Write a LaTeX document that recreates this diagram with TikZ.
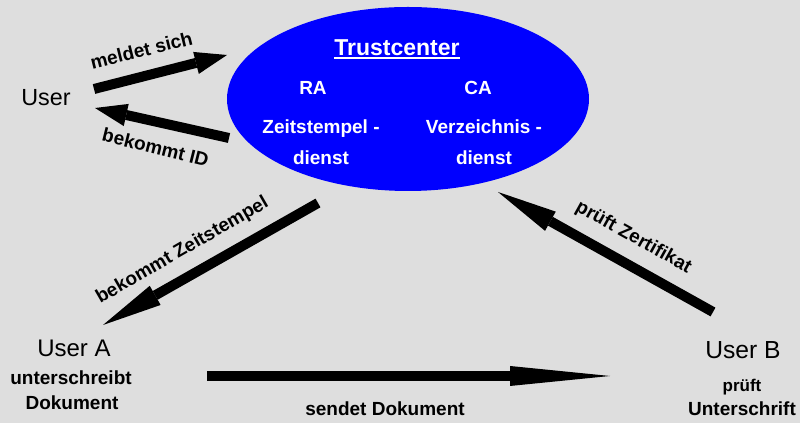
\documentclass[tikz,border=0pt]{standalone}
\usepackage{fontspec}
\setmainfont{Liberation Sans}
\usetikzlibrary{arrows.meta,shapes.geometric}
\definecolor{bg}{HTML}{DEDEDE}
\definecolor{tcblue}{HTML}{0000FF}
\tikzset{
  lbl/.style={font=\fontsize{14.25}{17}\selectfont\bfseries, inner sep=0pt, anchor=base},
  smalllbl/.style={font=\fontsize{12.75}{15}\selectfont\bfseries, inner sep=0pt, anchor=base},
  wlbl/.style={lbl, text=white},
  usr/.style={font=\fontsize{17.5}{20}\selectfont, inner sep=0pt, anchor=base},
  fat/.style={line width=7.5pt, draw=black},
  shorttip/.style={fat, -{Triangle[length=24pt,width=17pt,line width=0pt]}},
  midtip/.style={fat, -{Triangle[length=45pt,width=16.5pt,line width=0pt]}},
  longtip/.style={fat, -{Triangle[length=75pt,width=15pt,line width=0pt]}},
}
\begin{document}
\begin{tikzpicture}[x=0.75pt,y=-0.75pt]
  \fill[bg] (0,0) rectangle (800,423);
  \useasboundingbox (0,0) rectangle (800,423);

  % Trustcenter ellipse
  \node[ellipse, fill=tcblue, minimum width=271.5pt, minimum height=138pt, inner sep=0pt] (tc) at (408,99) {};
  \node[font=\fontsize{17.25}{20}\selectfont\bfseries, text=white, inner sep=0pt, anchor=base] (title) at (397,55.5) {Trustcenter};
  \draw[white, line width=1.7pt] ([yshift=-1.8pt]title.base west) -- ([yshift=-1.8pt]title.base east);
  \node[wlbl] (ra) at (313,95) {RA};
  \node[wlbl] (ca) at (478,95) {CA};
  \node[wlbl] (zd1) at (321,134) {Zeitstempel -};
  \node[wlbl] (zd2) at (321,165) {dienst};
  \node[wlbl] (vd1) at (484,134) {Verzeichnis -};
  \node[wlbl] (vd2) at (484,165) {dienst};

  % users
  \node[usr] (user) at (46,106) {User};
  \node[usr, font=\fontsize{18}{21}\selectfont] (usera) at (74,357) {User A};
  \node[lbl] (usera1) at (71,385) {unterschreibt};
  \node[lbl] (usera2) at (72,410) {Dokument};
  \node[usr, font=\fontsize{18.5}{21}\selectfont] (userb) at (743,359) {User B};
  \node[smalllbl] (userb1) at (742,392) {prüft};
  \node[lbl] (userb2) at (742,416) {Unterschrift};

  % arrow end points
  \coordinate (ms1) at (94,89);
  \coordinate (ms2) at (227,55);
  \coordinate (id1) at (229,138);
  \coordinate (id2) at (95,108);
  \coordinate (zs1) at (318,203);
  \coordinate (zs2) at (103,325);
  \coordinate (zk1) at (713,312);
  \coordinate (zk2) at (498,192);
  \coordinate (sd1) at (207,376);
  \coordinate (sd2) at (610,376);

  % arrows
  \draw[shorttip] (ms1) -- (ms2);
  \draw[shorttip] (id1) -- (id2);
  \draw[midtip] (zs1) -- (zs2);
  \draw[midtip] (zk1) -- (zk2);
  \draw[longtip] (sd1) -- (sd2);

  % arrow labels
  \node[lbl, rotate=14] (lms) at (143,57) {meldet sich};
  \node[lbl, rotate=-14] (lid) at (154,154) {bekommt ID};
  \node[lbl, rotate=30] (lzs) at (185,255) {bekommt Zeitstempel};
  \node[lbl, rotate=-29] (lzk) at (631,242) {prüft Zertifikat};
  \node[lbl] (lsd) at (385,416) {sendet Dokument};
\end{tikzpicture}
\end{document}
